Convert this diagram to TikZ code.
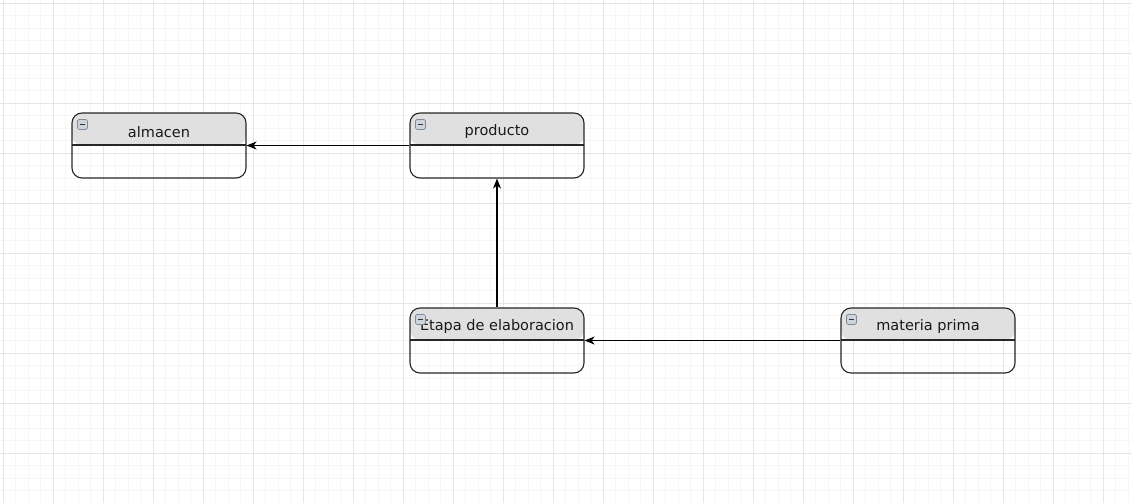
\documentclass[tikz,border=0pt]{standalone}
\usepackage{fontspec}
\setmainfont{DejaVu Sans}
\usetikzlibrary{arrows.meta}
\definecolor{gridminor}{HTML}{F6F6F6}
\definecolor{gridmajor}{HTML}{E6E6E6}
\definecolor{headfill}{HTML}{E0E0E0}
\definecolor{iconfill}{HTML}{CDD4DC}
\definecolor{iconline}{HTML}{7D8C9B}
\begin{document}
\begin{tikzpicture}[x=1pt, y=-1pt,
    every node/.style={font=\fontsize{14.5}{16}\selectfont},
    entity/.style={draw=black!85, line width=1.1pt, rounded corners=10pt,
        minimum width=174pt, minimum height=65pt, inner sep=0pt,
        path picture={
            \fill[headfill] (path picture bounding box.north west)
                rectangle ([yshift=-32pt]path picture bounding box.north east);
            \draw[black!85, line width=1.1pt] ([yshift=-32pt]path picture bounding box.north west)
                -- ([yshift=-32pt]path picture bounding box.north east);
        }},
    title/.style={inner sep=0pt, text=black!90},
    icon/.style={draw=iconline, fill=iconfill, rounded corners=1.5pt,
        minimum size=10pt, inner sep=0pt, line width=0.7pt},
    arr/.style={-{Stealth[length=10pt, width=8pt, inset=3pt]}, line width=1.2pt, black}]
    \useasboundingbox (0,0) rectangle (1132,503);
    % grid
    \foreach \g in {3,15.5,...,1132}{
        \draw[gridminor, line width=0.6pt] (\g,0) -- (\g,503);
    }
    \foreach \g in {3,15.5,...,503}{
        \draw[gridminor, line width=0.6pt] (0,\g) -- (1132,\g);
    }
    \foreach \g in {3,53,...,1132}{
        \draw[gridmajor, line width=0.6pt] (\g,0) -- (\g,503);
    }
    \foreach \g in {3,53,...,503}{
        \draw[gridmajor, line width=0.6pt] (0,\g) -- (1132,\g);
    }
    % entities
    \node[entity] (alm) at (159,145.5) {};
    \node[entity] (prod) at (497,145.5) {};
    \node[entity] (etap) at (497,340.5) {};
    \node[entity] (mat) at (928,340.5) {};
    \node[title] (alm-t) at ([yshift=-19.5pt]alm.north) {almacen};
    \node[title] (prod-t) at ([yshift=-19.5pt]prod.north) {producto};
    \node[title] (etap-t) at ([yshift=-19.5pt]etap.north) {Etapa de elaboracion};
    \node[title] (mat-t) at ([yshift=-19.5pt]mat.north) {materia prima};
    \foreach \b in {alm,prod,etap,mat}{
        \node[icon] (\b-i) at ([xshift=11pt,yshift=-12pt]\b.north west) {};
        \draw[black!80, line width=1.2pt] ([xshift=2.5pt]\b-i.west) -- ([xshift=-2.5pt]\b-i.east);
    }
    % relations
    \draw[arr] (prod.west) -- (alm.east);
    \draw[arr] (etap.north) -- (prod.south);
    \draw[arr] (mat.west) -- (etap.east);
\end{tikzpicture}
\end{document}
